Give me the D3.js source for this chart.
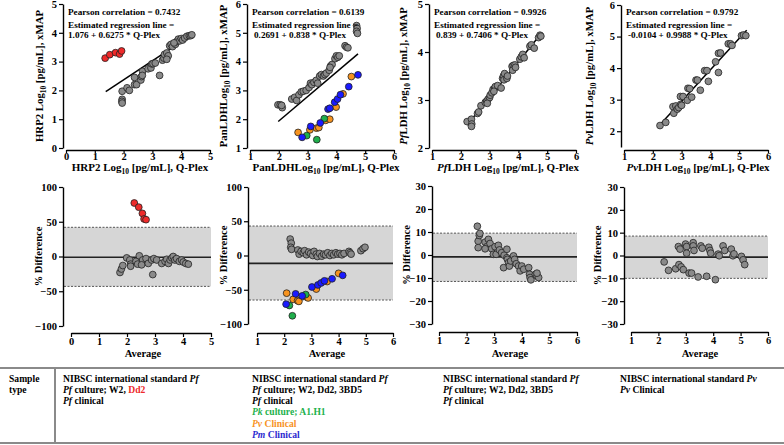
<!DOCTYPE html>
<html><head><meta charset="utf-8">
<script src="https://cdn.jsdelivr.net/npm/d3@7"></script>
<style>
body{margin:0;background:#fff}
svg{display:block}
svg text{font-family:"Liberation Serif","Times New Roman",serif !important;font-weight:bold}
</style>
</head><body><script>
// ---------------- DATA ----------------
// Top scatter panels: [Q-Plex, xMAP]
const hrp2Grey = [[1.95,1.97],[1.95,1.69],[1.94,1.62],[1.95,1.56],[2.12,2.09],[2.2,2.0],[2.38,2.45],[2.38,2.2],[2.45,2.2],[2.6,2.36],[2.62,2.48],[2.66,2.66],[2.65,2.52],[2.85,2.75],[2.95,2.78],[2.98,2.92],[3.02,2.93],[3.1,2.95],[3.25,2.52],[3.35,3.05],[3.4,3.12],[3.42,3.25],[3.5,3.3],[3.55,3.2],[3.6,3.55],[3.65,3.6],[3.7,3.52],[3.8,3.6],[3.85,3.7],[3.9,3.78],[3.95,3.72],[4.0,3.8],[4.05,3.75],[4.12,3.82],[4.2,3.88],[4.28,3.9],[4.33,3.9],[4.37,3.93],[3.75,3.65],[3.5,3.08]];
const hrp2Red = [[1.36,3.12],[1.52,3.24],[1.72,3.31],[1.86,3.26],[1.93,3.37]];
const panGrey = [[1.97,2.5],[2.05,2.5],[2.12,2.4],[2.1,2.48],[2.45,2.7],[2.55,2.76],[2.62,2.65],[2.7,2.85],[2.78,2.95],[2.85,2.97],[2.95,3.0],[3.05,3.1],[3.1,3.25],[3.15,3.2],[3.22,3.28],[3.3,3.35],[3.35,3.25],[3.42,3.5],[3.48,3.55],[3.55,3.5],[3.6,3.55],[3.65,3.6],[3.75,3.7],[3.8,3.85],[3.85,3.9],[3.78,3.8],[3.95,4.1],[4.0,4.2],[4.05,4.15],[4.1,4.2],[4.3,4.55],[4.35,4.5],[4.4,4.48],[4.7,5.25],[4.72,5.15],[4.7,5.05],[4.73,4.98]];
const panOrange = [[2.67,1.54],[3.08,1.63],[3.31,1.69],[3.39,1.71],[3.63,1.96],[3.77,2.0],[3.99,2.42],[4.23,2.88],[4.52,3.48]];
const panGreen = [[2.97,1.43],[3.32,1.29],[3.58,2.02]];
const panBlue = [[2.81,1.37],[3.11,1.75],[3.44,1.87],[3.71,2.35],[3.77,2.38],[3.94,2.59],[4.04,2.7],[4.14,2.85],[4.43,3.13],[4.75,3.54]];
const pfGrey = [[2.22,2.55],[2.37,2.6],[2.38,2.5],[2.37,2.45],[2.58,2.72],[2.62,2.75],[2.7,2.88],[2.85,2.95],[2.9,2.98],[2.95,3.02],[3.0,3.05],[3.02,3.1],[3.08,3.15],[3.12,3.22],[3.18,3.25],[3.2,3.28],[3.28,3.3],[3.4,3.25],[3.45,3.45],[3.48,3.5],[3.52,3.55],[3.5,3.42],[3.6,3.45],[3.62,3.5],[3.78,3.7],[3.82,3.72],[3.8,3.62],[3.88,3.73],[3.9,3.68],[4.05,3.85],[4.1,3.9],[4.15,3.95],[4.2,3.88],[4.4,4.12],[4.45,4.15],[4.55,4.08],[4.7,4.3],[4.75,4.35],[4.78,4.33],[3.15,3.18],[2.92,2.93]];
const pvGrey = [[2.25,2.18],[2.45,2.28],[2.7,2.78],[2.73,2.57],[2.8,2.8],[2.85,2.7],[2.9,2.75],[2.97,2.85],[2.96,3.1],[3.05,3.1],[3.0,2.82],[3.2,2.98],[3.22,3.36],[3.28,3.35],[3.35,3.08],[3.5,3.62],[3.55,3.62],[3.65,3.3],[3.8,3.92],[3.88,3.92],[3.93,3.58],[4.18,4.2],[4.28,3.86],[4.28,4.47],[4.35,4.48],[4.62,4.77],[4.7,4.77],[4.75,4.72],[5.08,5.03],[5.15,5.05],[5.23,5.03]];
// regression line end points
const regLines = [[[1.38,1.96],[4.35,3.92]],[[1.98,1.92],[4.75,4.27]],[[2.22,2.48],[4.8,4.39]],[[2.24,2.2],[5.26,5.2]]];
const pearson = ["0.7432","0.6139","0.9926","0.9792"];
const regText = ["1.076 + 0.6275 * Q-Plex","0.2691 + 0.838 * Q-Plex","0.839 + 0.7406 * Q-Plex","-0.0104 + 0.9988 * Q-Plex"];

// Bland-Altman panels: [Average, % Difference]
const baHrp2Grey = [[1.75,-23],[1.8,-18],[1.85,-13],[1.99,-2],[2.1,-5],[2.13,-11],[2.13,-14],[2.32,-7],[2.38,-11],[2.44,1],[2.56,-5],[2.52,-12],[2.68,-3],[2.76,-10],[2.88,-5],[2.92,-26],[2.96,-3],[3.06,-5],[3.24,-10],[3.36,-7],[3.42,-4],[3.48,-10],[3.54,-5],[3.6,-2],[3.65,0],[3.71,-5],[3.77,-3],[3.87,-7],[3.95,-5],[4.01,-8],[4.1,-10],[4.19,-11]];
const baHrp2Red = [[2.26,77],[2.42,71],[2.55,62],[2.61,54],[2.68,53]];
const baPanGrey = [[2.22,24],[2.26,18],[2.24,12],[2.27,9],[2.5,8],[2.55,2],[2.62,6],[2.7,4],[2.75,7],[2.82,1],[2.9,5],[2.97,3],[3.05,0],[3.1,6],[3.18,2],[3.22,-1.5],[3.3,3],[3.38,-1],[3.45,2],[3.52,1],[3.6,4],[3.68,0],[3.75,3],[3.82,1],[3.9,4],[3.97,2],[4.05,3],[4.12,1],[4.2,3],[4.38,6],[4.42,4],[4.46,2],[4.82,7],[4.9,10],[4.97,12]];
const baPanOrange = [[2.09,-55],[2.33,-64],[2.49,-66],[2.54,-67],[2.78,-60],[2.88,-62],[3.18,-49],[3.58,-38],[4.0,-26]];
const baPanGreen = [[2.19,-73],[2.3,-88],[2.79,-57]];
const baPanBlue = [[2.07,-71],[2.42,-56],[2.66,-59],[3.02,-46],[3.24,-43],[3.36,-40],[3.48,-37],[3.76,-34],[4.15,-29]];
const baPfGrey = [[2.39,12.5],[2.42,6],[2.46,8.5],[2.42,3.2],[2.48,9.4],[2.67,5.6],[2.73,3.6],[2.67,2.7],[2.79,6.8],[2.85,5],[2.91,2.7],[2.97,0.3],[3.03,3.6],[3.07,0.3],[3.15,4.2],[3.19,2.2],[3.27,1],[3.34,-5.5],[3.36,-0.1],[3.46,2.5],[3.46,-1.2],[3.48,-1.9],[3.52,-3.3],[3.55,-4.8],[3.6,-2.6],[3.7,-0.4],[3.74,-1.9],[3.8,-3.8],[3.88,-4.8],[3.94,-6.9],[4.0,-4.8],[4.07,-6.2],[4.25,-5.5],[4.28,-8.4],[4.3,-9.8],[4.33,-10.8],[4.49,-8.4],[4.55,-9.1],[4.61,-9.8],[4.55,-7.9]];
const baPvGrey = [[2.21,-2.8],[2.37,-6.5],[2.63,-5.8],[2.73,3.9],[2.79,2.8],[2.75,-4],[2.83,-5],[2.91,-6.2],[2.99,5],[3.03,3.9],[3.03,1],[3.12,-7.7],[3.21,-7.7],[3.27,5.6],[3.27,4.2],[3.3,2.2],[3.45,-9.4],[3.55,4.2],[3.6,3.2],[3.76,-9.1],[3.84,3.6],[3.88,2.2],[3.91,1],[4.08,-10.6],[4.18,0.6],[4.22,-0.1],[4.36,4.2],[4.42,2.2],[4.66,2.8],[4.72,-0.1],[4.76,0.7],[5.03,-0.4],[5.09,-1.9],[5.15,-4]];
const baUpper = [42,43,9.5,8.5];
const baMean = [-1,-11.5,-0.8,-0.7];
const baLower = [-43,-65,-11.5,-10];

const topXTicks = [[0,1,2,3,4,5],[1,2,3,4,5,6],[1,2,3,4,5,6],[1,2,3,4,5,6]];
const topYTicks = [[0,1,2,3,4,5],[1,2,3,4,5,6],[2,3,4,5],[2,3,4,5,6]];
const baXTicks = [[0,1,2,3,4,5],[1,2,3,4,5,6],[1,2,3,4,5,6],[1,2,3,4,5,6]];
const baYTicks = [[-100,-50,0,50,100],[-100,-50,0,50,100],[-30,-20,-10,0,10,20,30],[-30,-20,-10,0,10,20,30]];

const C = {grey:"#8a8a8a", red:"#ee2a2a", orange:"#f7931e", green:"#1fae4b", blue:"#1a1aff", textGreen:"#22b14c", textOrange:"#f7931e", textBlue:"#2b2bd0", textRed:"#ee2a2a"};
const FONT = '"Liberation Serif","Times New Roman",serif';

// ---------------- LAYOUT ----------------
const svg = d3.select("body").append("svg").attr("width",784).attr("height",445)
  .attr("font-family",FONT).attr("font-weight","bold");

function rich(textSel, segs, size){
  let shifted = 0;
  segs.forEach(s=>{
    const t = textSel.append("tspan").text(s.t);
    if(s.i) t.attr("font-style","italic");
    if(s.c) t.attr("fill",s.c);
    if(s.sub){ t.attr("font-size",size*0.68).attr("dy",size*0.28); shifted = size*0.28; }
    else if(shifted){ t.attr("dy",-shifted); shifted = 0; }
  });
  return textSel;
}

const topLayout = [
  {xr:[66,210], yr:[148,4], xd:[0,5], yd:[0,5], yAxX:63, xAxY:150, yTitleX:43, xTitleX:140},
  {xr:[250,394], yr:[148,4], xd:[1,6], yd:[1,6], yAxX:247, xAxY:150, yTitleX:227, xTitleX:326},
  {xr:[432,576], yr:[148,4], xd:[1,6], yd:[2,5], yAxX:429, xAxY:150, yTitleX:407, xTitleX:508},
  {xr:[624,768], yr:[147,5], xd:[1,6], yd:[1.5,6], yAxX:621, xAxY:150, yTitleX:593, xTitleX:698}
];
const topYTitles = [
  [{t:"HRP2 Log"},{t:"10",sub:1},{t:" [pg/mL], xMAP"}],
  [{t:"PanLDHLog"},{t:"10",sub:1},{t:" [pg/mL], xMAP"}],
  [{t:"Pf",i:1},{t:"LDH Log"},{t:"10",sub:1},{t:" [pg/mL], xMAP"}],
  [{t:"Pv",i:1},{t:"LDH Log"},{t:"10",sub:1},{t:" [pg/mL], xMAP"}]
];
const topXTitles = [
  [{t:"HRP2 Log"},{t:"10",sub:1},{t:" [pg/mL], Q-Plex"}],
  [{t:"PanLDHLog"},{t:"10",sub:1},{t:" [pg/mL], Q-Plex"}],
  [{t:"Pf",i:1},{t:"LDH Log"},{t:"10",sub:1},{t:" [pg/mL], Q-Plex"}],
  [{t:"Pv",i:1},{t:"LDH Log"},{t:"10",sub:1},{t:" [pg/mL], Q-Plex"}]
];
const topSeries = [
  [[hrp2Grey,C.grey],[hrp2Red,C.red]],
  [[panGrey,C.grey],[panOrange,C.orange],[panGreen,C.green],[panBlue,C.blue]],
  [[pfGrey,C.grey]],
  [[pvGrey,C.grey]]
];

function styleAxis(g){
  g.attr("font-family",FONT);
  g.select(".domain").attr("stroke","#000").attr("stroke-width",1.4);
  g.selectAll(".tick line").attr("stroke","#000").attr("stroke-width",1.2);
  g.selectAll(".tick text").attr("font-size",10.5).attr("font-weight","bold").attr("fill","#000")
    .attr("font-family",FONT);
}

function dots(g, data, x, y, color){
  g.selectAll(null).data(data).enter().append("circle")
    .attr("cx",d=>x(d[0])).attr("cy",d=>y(d[1])).attr("r",3.4)
    .attr("fill",color).attr("stroke","#222").attr("stroke-width",0.8);
}

topLayout.forEach((L,i)=>{
  const g = svg.append("g");
  const x = d3.scaleLinear().domain(L.xd).range(L.xr);
  const y = d3.scaleLinear().domain(L.yd).range(L.yr);
  const xa = g.append("g").attr("transform",`translate(0,${L.xAxY})`)
    .call(d3.axisBottom(x).tickValues(topXTicks[i]).tickSize(3).tickSizeOuter(0).tickPadding(0).tickFormat(d3.format("d")));
  styleAxis(xa);
  const ya = g.append("g").attr("transform",`translate(${L.yAxX},0)`)
    .call(d3.axisLeft(y).tickValues(topYTicks[i]).tickSize(4).tickSizeOuter(0).tickPadding(2).tickFormat(d3.format("d")));
  styleAxis(ya);
  g.append("line").attr("x1",x(regLines[i][0][0])).attr("y1",y(regLines[i][0][1]))
    .attr("x2",x(regLines[i][1][0])).attr("y2",y(regLines[i][1][1]))
    .attr("stroke","#000").attr("stroke-width",1.5);
  topSeries[i].forEach(s=>dots(g,s[0],x,y,s[1]));
  const ax = L.yAxX + 5;
  g.append("text").attr("x",ax).attr("y",14.5).attr("font-size",9.2).text("Pearson correlation = "+pearson[i]);
  g.append("text").attr("x",ax).attr("y",28).attr("font-size",9.2).text("Estimated regression line =");
  g.append("text").attr("x",ax+(i===0?0:2)).attr("y",37.5).attr("font-size",9.2).text(regText[i]);
  rich(g.append("text").attr("transform",`translate(${L.yTitleX},${(L.yr[0]+L.yr[1])/2}) rotate(-90)`)
    .attr("text-anchor","middle").attr("font-size",10.8), topYTitles[i], 10.8);
  rich(g.append("text").attr("x",L.xTitleX).attr("y",171).attr("text-anchor","middle").attr("font-size",11), topXTitles[i], 11);
});

// ---------------- Bland-Altman ----------------
const baLayout = [
  {xr:[71,211], yr:[326,187], xd:[0,5], yd:[-100,100], yAxX:63, xAxY:333, yTitleX:42, avgX:143},
  {xr:[257,393], yr:[324,187], xd:[1,6], yd:[-100,100], yAxX:248, xAxY:333, yTitleX:227, avgX:327},
  {xr:[439,577], yr:[324,186], xd:[1,6], yd:[-30,30], yAxX:432, xAxY:332, yTitleX:410, avgX:510},
  {xr:[631,768], yr:[324,187], xd:[1,6], yd:[-30,30], yAxX:624, xAxY:332, yTitleX:601, avgX:700}
];
const baSeries = [
  [[baHrp2Grey,C.grey],[baHrp2Red,C.red]],
  [[baPanGrey,C.grey],[baPanOrange,C.orange],[baPanGreen,C.green],[baPanBlue,C.blue]],
  [[baPfGrey,C.grey]],
  [[baPvGrey,C.grey]]
];
baLayout.forEach((L,i)=>{
  const g = svg.append("g");
  const x = d3.scaleLinear().domain(L.xd).range(L.xr);
  const y = d3.scaleLinear().domain(L.yd).range(L.yr);
  const bx0 = L.yAxX + 1, bx1 = L.xr[1];
  g.append("rect").attr("x",bx0).attr("width",bx1-bx0)
    .attr("y",y(baUpper[i])).attr("height",y(baLower[i])-y(baUpper[i])).attr("fill","#d6d6d6");
  [baUpper[i],baLower[i]].forEach(v=>{
    g.append("line").attr("x1",bx0).attr("x2",bx1).attr("y1",y(v)).attr("y2",y(v))
      .attr("stroke","#555").attr("stroke-width",1).attr("stroke-dasharray","2,1.5");
  });
  g.append("line").attr("x1",bx0).attr("x2",bx1).attr("y1",y(baMean[i])).attr("y2",y(baMean[i]))
    .attr("stroke","#222").attr("stroke-width",1.6);
  const xa = g.append("g").attr("transform",`translate(0,${L.xAxY})`)
    .call(d3.axisBottom(x).tickValues(baXTicks[i]).tickSize(4).tickSizeOuter(0).tickPadding(1).tickFormat(d3.format("d")));
  styleAxis(xa);
  const ya = g.append("g").attr("transform",`translate(${L.yAxX},0)`)
    .call(d3.axisLeft(y).tickValues(baYTicks[i]).tickSize(4).tickSizeOuter(0).tickPadding(2).tickFormat(d3.format("d")));
  styleAxis(ya);
  baSeries[i].forEach(s=>dots(g,s[0],x,y,s[1]));
  g.append("text").attr("transform",`translate(${L.yTitleX},${(L.yr[0]+L.yr[1])/2}) rotate(-90)`)
    .attr("text-anchor","middle").attr("font-size",10.5).text("% Difference");
  g.append("text").attr("x",L.avgX).attr("y",357).attr("text-anchor","middle").attr("font-size",10.5).text("Average");
});

// ---------------- Table ----------------
const tableCols = [
  [
    [{t:"NIBSC international standard "},{t:"Pf",i:1}],
    [{t:"Pf",i:1},{t:" culture; W2, "},{t:"Dd2",c:C.textRed}],
    [{t:"Pf",i:1},{t:" clinical"}]
  ],
  [
    [{t:"NIBSC international standard "},{t:"Pf",i:1}],
    [{t:"Pf",i:1},{t:" culture; W2, Dd2, 3BD5"}],
    [{t:"Pf",i:1},{t:" clinical"}],
    [{t:"Pk",i:1,c:C.textGreen},{t:" culture; A1.H1",c:C.textGreen}],
    [{t:"Pv",i:1,c:C.textOrange},{t:" Clinical",c:C.textOrange}],
    [{t:"Pm",i:1,c:C.textBlue},{t:" Clinical",c:C.textBlue}]
  ],
  [
    [{t:"NIBSC international standard "},{t:"Pf",i:1}],
    [{t:"Pf",i:1},{t:" culture; W2, Dd2, 3BD5"}],
    [{t:"Pf",i:1},{t:" clinical"}]
  ],
  [
    [{t:"NIBSC international standard "},{t:"Pv",i:1}],
    [{t:"Pv",i:1},{t:" Clinical"}]
  ]
];
const tableX = [63,252,443,620];
const TF = 9.6;
const tg = svg.append("g");
tg.append("line").attr("x1",0).attr("x2",784).attr("y1",368).attr("y2",368).attr("stroke","#8a8a8a").attr("stroke-width",2);
tg.append("line").attr("x1",0).attr("x2",784).attr("y1",443).attr("y2",443).attr("stroke","#8a8a8a").attr("stroke-width",2);
tg.append("line").attr("x1",55).attr("x2",55).attr("y1",368).attr("y2",443).attr("stroke","#8a8a8a").attr("stroke-width",2);
tg.append("text").attr("x",9).attr("y",381.5).attr("font-size",TF).text("Sample");
tg.append("text").attr("x",9).attr("y",393).attr("font-size",TF).text("type");
tableCols.forEach((col,ci)=>{
  col.forEach((line,li)=>{
    rich(tg.append("text").attr("x",tableX[ci]).attr("y",381.5+li*11.3).attr("font-size",TF), line, TF);
  });
});
</script></body></html>
